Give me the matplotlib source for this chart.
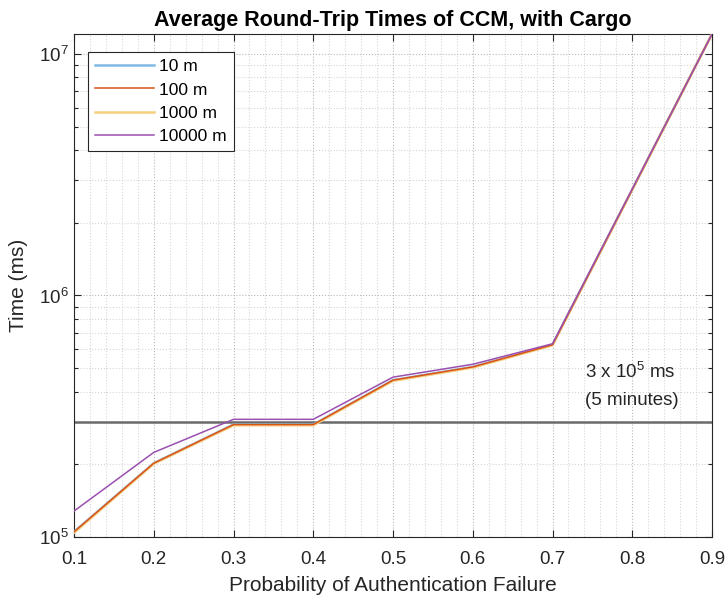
import numpy as np
import matplotlib
matplotlib.use('Agg')
import matplotlib.pyplot as plt
from matplotlib.ticker import MultipleLocator, LogLocator

plt.rcParams['font.family'] = ['Liberation Sans', 'DejaVu Sans']
plt.rcParams['mathtext.fontset'] = 'custom'
plt.rcParams['mathtext.rm'] = 'Liberation Sans'
plt.rcParams['mathtext.it'] = 'Liberation Sans:italic'

# probability of authentication failure
prob = [0.1, 0.2, 0.3, 0.4, 0.5, 0.6, 0.7, 0.8, 0.9]
# average round-trip times (ms)
t_10m = [1.05e5, 2.02e5, 2.92e5, 2.92e5, 4.46e5, 5.06e5, 6.25e5, 2.75e6, 1.21e7]
t_100m = [1.05e5, 2.02e5, 2.92e5, 2.92e5, 4.46e5, 5.06e5, 6.25e5, 2.75e6, 1.21e7]
t_1000m = [1.04e5, 2.01e5, 2.90e5, 2.90e5, 4.43e5, 5.03e5, 6.22e5, 2.74e6, 1.21e7]
t_10000m = [1.28e5, 2.24e5, 3.07e5, 3.07e5, 4.59e5, 5.19e5, 6.31e5, 2.76e6, 1.21e7]
labels = ['10 m', '100 m', '1000 m', '10000 m']
limit = 3e5

fig = plt.figure(figsize=(7.27, 6.03), dpi=100)
ax = fig.add_axes([0.1018, 0.1095, 0.8776, 0.8341])

#draw the series, yellow under orange like in the original
ax.plot(prob, t_10m, color='#80b9e3', lw=1.8, zorder=3, label=labels[0])
ax.plot(prob, t_100m, color='#d95319', lw=1.1, zorder=5, label=labels[1])
ax.plot(prob, t_1000m, color='#f5cf80', lw=1.8, zorder=4, label=labels[2])
ax.plot(prob, t_10000m, color='#9b4fb0', lw=1.1, zorder=6, label=labels[3])
ax.axhline(limit, color='#6a6a6a', lw=1.8, zorder=2)

ax.set_yscale('log')
ax.set_xlim(0.1, 0.9)
ax.set_ylim(1e5, 1.21e7)

ax.xaxis.set_major_locator(MultipleLocator(0.1))
ax.xaxis.set_minor_locator(MultipleLocator(0.02))
ax.yaxis.set_major_locator(LogLocator(base=10))
ax.yaxis.set_minor_locator(LogLocator(base=10, subs=np.arange(2, 10)))

ax.grid(True, which='major', ls=':', color='#b8b8b8', lw=0.8)
ax.grid(True, which='minor', ls=':', color='#d6d6d6', lw=0.8)
ax.tick_params(which='both', direction='in', top=True, right=True, colors='#262626',
               labelcolor='#262626', labelsize=13.5, width=0.8)
ax.tick_params(which='major', length=5)
ax.tick_params(axis='y', which='minor', length=3)
ax.tick_params(axis='x', which='minor', length=0)
ax.tick_params(axis='x', pad=10)
for s in ax.spines.values():
    s.set_color('#262626')
    s.set_linewidth(0.8)

ax.set_xlabel('Probability of Authentication Failure', fontsize=15, color='#262626', labelpad=6)
ax.set_ylabel('Time (ms)', fontsize=15, color='#262626', labelpad=8)
ax.set_title('Average Round-Trip Times of CCM, with Cargo', fontsize=15.5, fontweight='bold', pad=6)

ax.text(0.741, 4.81e5, r'3 x 10$^5$ ms', fontsize=13.5, va='center', ha='left', color='#262626')
ax.text(0.741, 3.68e5, '(5 minutes)', fontsize=13.5, va='center', ha='left', color='#262626')

leg = ax.legend(loc='upper left', bbox_to_anchor=(0.022, 0.964), borderaxespad=0,
                fontsize=12.5, fancybox=False, framealpha=1, edgecolor='#262626',
                handlelength=3.4, handletextpad=0.3, labelspacing=0.47)
leg.get_frame().set_linewidth(0.8)

fig.savefig('out.png', dpi=100)
